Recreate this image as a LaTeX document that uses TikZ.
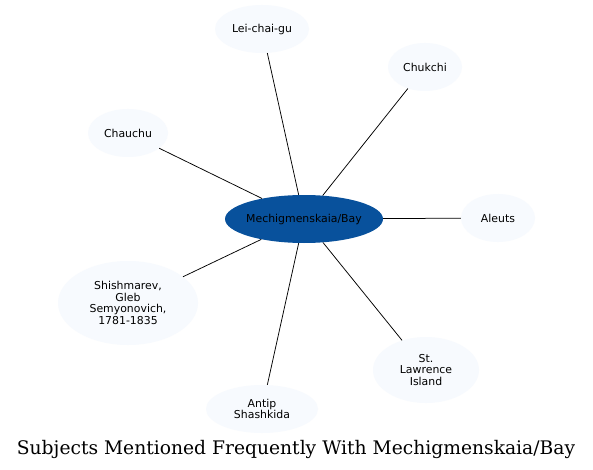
\documentclass[tikz,border=0pt]{standalone}
\usepackage{fontspec}
\newfontfamily\nodefont{DejaVu Sans}
\newfontfamily\titlefont{DejaVu Serif}
\usetikzlibrary{shapes.geometric}
\definecolor{leaf}{HTML}{F7FAFE}
\definecolor{hub}{HTML}{08519C}
\tikzset{
  leafnode/.style={ellipse, fill=leaf, draw=none, inner sep=0pt, align=center, font=\nodefont\fontsize{10.9}{11.7}\selectfont},
  hubnode/.style={ellipse, fill=hub, draw=none, inner sep=0pt, inner xsep=-10pt, align=center, font=\nodefont\fontsize{10.9}{11.7}\selectfont, text=black},
  link/.style={draw=black, line width=0.75pt}
}
\begin{document}
\begin{tikzpicture}[x=1pt,y=-1pt]
\useasboundingbox (0,0) rectangle (593,470);
\fill[white] (0,0) rectangle (593,470);
\node[hubnode, minimum width=158pt, minimum height=48pt] (c) at (304,219) {Mechigmenskaia/Bay};
\node[leafnode, minimum width=94pt, minimum height=48pt] (lei) at (262,29) {Lei-chai-gu};
\node[leafnode, minimum width=74pt, minimum height=48pt] (chuk) at (425,67) {Chukchi};
\node[leafnode, minimum width=80pt, minimum height=48pt] (chau) at (128,133) {Chauchu};
\node[leafnode, minimum width=74pt, minimum height=48pt] (ale) at (498,218) {Aleuts};
\node[leafnode, minimum width=140pt, minimum height=84pt] (shi) at (128,303) {Shishmarev,\\Gleb\\Semyonovich,\\1781-1835};
\node[leafnode, minimum width=112pt, minimum height=48pt] (ant) at (262,409) {Antip\\Shashkida};
\node[leafnode, minimum width=106pt, minimum height=66pt] (stl) at (426,370) {St.\\Lawrence\\Island};
\draw[link] (c) -- (lei);
\draw[link] (c) -- (chuk);
\draw[link] (c) -- (chau);
\draw[link] (c) -- (ale);
\draw[link] (c) -- (shi);
\draw[link] (c) -- (ant);
\draw[link] (c) -- (stl);
\node[font=\titlefont\fontsize{18.7}{21}\selectfont] (title) at (296,449) {Subjects Mentioned Frequently With Mechigmenskaia/Bay};
\end{tikzpicture}
\end{document}
